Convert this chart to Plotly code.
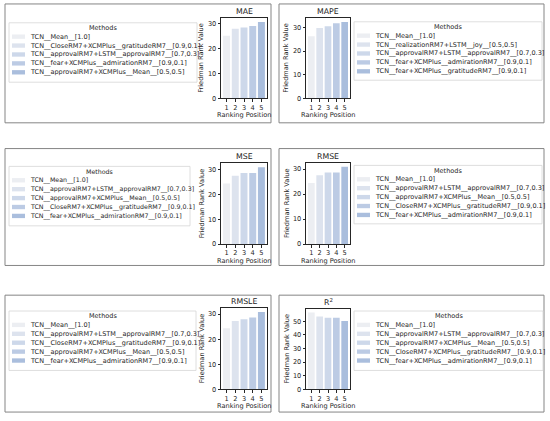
import plotly.graph_objects as go

W, H = 550, 421
FONT = "DejaVu Sans"
INK = "#262626"

ranks = [1, 2, 3, 4, 5]
bar_colors = ["#eceef2", "#dde3ee", "#cdd8ea", "#bccbe4", "#aabedd"]

mae_methods = ["TCN__Mean__[1.0]",
               "TCN__CloseRM7+XCMPlus__gratitudeRM7__[0.9,0.1]",
               "TCN__approvalRM7+LSTM__approvalRM7__[0.7,0.3]",
               "TCN__fear+XCMPlus__admirationRM7__[0.9,0.1]",
               "TCN__approvalRM7+XCMPlus__Mean__[0.5,0.5]"]
mae_values = [25.2, 28.0, 28.5, 29.1, 30.7]

mape_methods = ["TCN__Mean__[1.0]",
                "TCN__realizationRM7+LSTM__joy__[0.5,0.5]",
                "TCN__approvalRM7+LSTM__approvalRM7__[0.7,0.3]",
                "TCN__fear+XCMPlus__admirationRM7__[0.9,0.1]",
                "TCN__fear+XCMPlus__gratitudeRM7__[0.9,0.1]"]
mape_values = [26.3, 29.8, 30.6, 31.8, 32.4]

mse_methods = ["TCN__Mean__[1.0]",
               "TCN__approvalRM7+LSTM__approvalRM7__[0.7,0.3]",
               "TCN__approvalRM7+XCMPlus__Mean__[0.5,0.5]",
               "TCN__CloseRM7+XCMPlus__gratitudeRM7__[0.9,0.1]",
               "TCN__fear+XCMPlus__admirationRM7__[0.9,0.1]"]
mse_values = [24.4, 27.5, 28.6, 28.6, 30.9]

rmse_methods = ["TCN__Mean__[1.0]",
                "TCN__approvalRM7+LSTM__approvalRM7__[0.7,0.3]",
                "TCN__approvalRM7+XCMPlus__Mean__[0.5,0.5]",
                "TCN__CloseRM7+XCMPlus__gratitudeRM7__[0.9,0.1]",
                "TCN__fear+XCMPlus__admirationRM7__[0.9,0.1]"]
rmse_values = [24.4, 27.5, 28.6, 28.6, 30.9]

rmsle_methods = ["TCN__Mean__[1.0]",
                 "TCN__approvalRM7+LSTM__approvalRM7__[0.7,0.3]",
                 "TCN__CloseRM7+XCMPlus__gratitudeRM7__[0.9,0.1]",
                 "TCN__approvalRM7+XCMPlus__Mean__[0.5,0.5]",
                 "TCN__fear+XCMPlus__admirationRM7__[0.9,0.1]"]
rmsle_values = [24.4, 27.3, 28.0, 28.7, 30.9]

r2_methods = ["TCN__Mean__[1.0]",
              "TCN__approvalRM7+LSTM__approvalRM7__[0.7,0.3]",
              "TCN__approvalRM7+XCMPlus__Mean__[0.5,0.5]",
              "TCN__CloseRM7+XCMPlus__gratitudeRM7__[0.9,0.1]",
              "TCN__fear+XCMPlus__admirationRM7__[0.9,0.1]"]
r2_values = [56.6, 53.6, 52.7, 52.7, 50.3]

# pixel geometry of each panel: outer box, bar axes, legend box
panels = [
    dict(title="MAE", methods=mae_methods, values=mae_values,
         box=(5, 4, 271, 124), plot=(221, 18.3, 267, 99.3), legend=(9, 23, 197, 83), fs=6.5),
    dict(title="MAPE", methods=mape_methods, values=mape_values,
         box=(279, 4, 544, 124), plot=(306, 18.3, 350, 99.3), legend=(354, 22, 542, 81), fs=6.5),
    dict(title="MSE", methods=mse_methods, values=mse_values,
         box=(5, 150, 271, 268), plot=(221, 165, 267, 246.5), legend=(9, 168, 190, 228), fs=6.3),
    dict(title="RMSE", methods=rmse_methods, values=rmse_values,
         box=(279, 150, 544, 268), plot=(306, 164.5, 350, 246.5), legend=(354, 167, 542, 226), fs=6.5),
    dict(title="RMSLE", methods=rmsle_methods, values=rmsle_values,
         box=(5, 298, 271, 416), plot=(221, 311, 267, 393), legend=(9, 314, 196, 374), fs=6.5),
    dict(title="R<sup>2</sup>", methods=r2_methods, values=r2_values,
         box=(279, 298, 544, 416), plot=(306, 311.5, 350, 393), legend=(354, 314, 543, 374), fs=6.5),
]


def fx(x):
    return x / W


def fy(y):
    return 1 - y / H


fig = go.Figure()
shapes = []
annotations = []
axes = {}

for i, p in enumerate(panels):
    n = "" if i == 0 else str(i + 1)
    l, t, r, b = p["plot"]

    fig.add_trace(go.Bar(x=ranks, y=p["values"], width=0.8,
                         marker=dict(color=bar_colors, line=dict(width=0)),
                         xaxis="x" + n, yaxis="y" + n, showlegend=False))

    common = dict(showline=True, mirror=True, linecolor=INK, linewidth=0.8,
                  ticks="outside", ticklen=2.5, tickwidth=0.7, tickcolor=INK,
                  showgrid=False, zeroline=False,
                  tickfont=dict(family=FONT, size=6.6, color=INK))
    axes["xaxis" + n] = dict(common, domain=[fx(l), fx(r)], anchor="y" + n,
                             range=[0.36, 5.64], tickvals=ranks)
    axes["yaxis" + n] = dict(common, domain=[fy(b), fy(t)], anchor="x" + n,
                             range=[0, max(p["values"]) * 1.05], dtick=10)

    # panel frame
    bl, bt, br, bb = p["box"]
    shapes.append(dict(type="rect", xref="paper", yref="paper",
                       x0=fx(bl), x1=fx(br), y0=fy(bb), y1=fy(bt),
                       line=dict(color="#858585", width=1)))

    # titles
    cx = (l + r) / 2
    annotations.append(dict(text=p["title"], x=fx(cx), y=fy(t - 6.5),
                            font=dict(size=7.8)))
    annotations.append(dict(text="Ranking Position", x=fx(cx), y=fy(b + 17),
                            font=dict(size=6.6)))
    annotations.append(dict(text="Friedman Rank Value", x=fx(l - 19.5), y=fy((t + b) / 2),
                            textangle=-90, font=dict(size=6.6)))

    # legend
    ll, lt, lr, lb = p["legend"]
    shapes.append(dict(type="rect", xref="paper", yref="paper",
                       x0=fx(ll), x1=fx(lr), y0=fy(lb), y1=fy(lt),
                       line=dict(color="#d6d6d6", width=0.8), fillcolor="white"))
    annotations.append(dict(text="Methods", x=fx((ll + lr) / 2), y=fy(lt + 5.5),
                            font=dict(size=p["fs"])))
    for j, m in enumerate(p["methods"]):
        ry = lt + 14 + 9 * j
        shapes.append(dict(type="rect", xref="paper", yref="paper",
                           x0=fx(ll + 3), x1=fx(ll + 16), y0=fy(ry + 2.2), y1=fy(ry - 2.2),
                           line=dict(width=0), fillcolor=bar_colors[j]))
        annotations.append(dict(text=m, x=fx(ll + 18.5), y=fy(ry), xanchor="left",
                                font=dict(size=p["fs"])))

for a in annotations:
    a.setdefault("xanchor", "center")
    a.update(xref="paper", yref="paper", yanchor="middle", showarrow=False)
    a["font"] = dict(family=FONT, color=INK, **a["font"])

fig.update_layout(width=W, height=H, margin=dict(l=0, r=0, t=0, b=0),
                  paper_bgcolor="white", plot_bgcolor="white",
                  shapes=shapes, annotations=annotations, bargap=0.2,
                  **axes)

fig.write_html("out.html", config={"displayModeBar": False},
               post_script="document.body.style.margin = '0';")
